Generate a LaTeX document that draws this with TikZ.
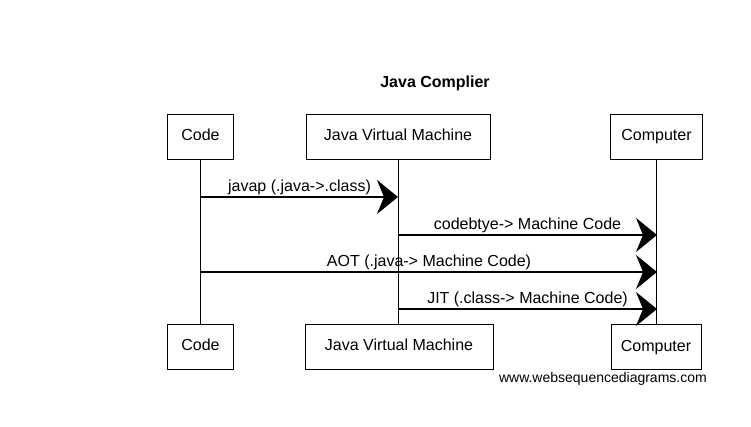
\documentclass[tikz,border=0pt]{standalone}
\usepackage{fontspec}
\setmainfont{Liberation Sans}
\usetikzlibrary{arrows.meta}
\tikzset{
  actor/.style={draw, line width=0.9pt, minimum height=45pt, inner sep=0pt, text height=11.5pt, text depth=3.5pt, font=\fontsize{16}{18}\selectfont},
  life/.style={line width=0.8pt},
  msg/.style={line width=1.1pt, -{Stealth[length=21pt,width=34pt,inset=7pt]}},
  lbl/.style={above, inner sep=2pt, font=\fontsize{16}{18}\selectfont}
}
\begin{document}
\begin{tikzpicture}[x=1pt,y=-1pt]
\useasboundingbox (0,0) rectangle (751,427);
\node[font=\bfseries\fontsize{16}{18}\selectfont] (title) at (435,83) {Java Complier};
% top actors
\node[actor, minimum width=66pt] (codeT) at (200.5,137) {Code};
\node[actor, minimum width=184pt] (jvmT) at (398,136.5) {Java Virtual Machine};
\node[actor, minimum width=92pt] (compT) at (656.5,137) {Computer};
% bottom actors
\node[actor, minimum width=66pt] (codeB) at (200.5,346.5) {Code};
\node[actor, minimum width=188pt] (jvmB) at (399,346.5) {Java Virtual Machine};
\node[actor, minimum width=90pt] (compB) at (656,347) {Computer};
% lifelines
\draw[life] (codeT.south) -- (codeB.north);
\draw[life] (jvmT.south) -- (jvmT.south |- jvmB.north);
\draw[life] (compT.south) -- (compT.south |- compB.north);
% message end points
\coordinate (m1s) at (201,197);
\coordinate (m1e) at (398,197);
\coordinate (m2s) at (398,235);
\coordinate (m2e) at (657,235);
\coordinate (m3s) at (201,272);
\coordinate (m3e) at (657,272);
\coordinate (m4s) at (398,309);
\coordinate (m4e) at (657,309);
\draw[msg] (m1s) -- node[lbl] (l1) {javap (.java->.class)} (m1e);
\draw[msg] (m2s) -- node[lbl] (l2) {codebtye-> Machine Code} (m2e);
\draw[msg] (m3s) -- node[lbl] (l3) {AOT (.java-> Machine Code)} (m3e);
\draw[msg] (m4s) -- node[lbl] (l4) {JIT (.class-> Machine Code)} (m4e);
\node[anchor=east, inner sep=0pt, font=\fontsize{14}{16}\selectfont] (wm) at (707,379) {www.websequencediagrams.com};
\end{tikzpicture}
\end{document}
